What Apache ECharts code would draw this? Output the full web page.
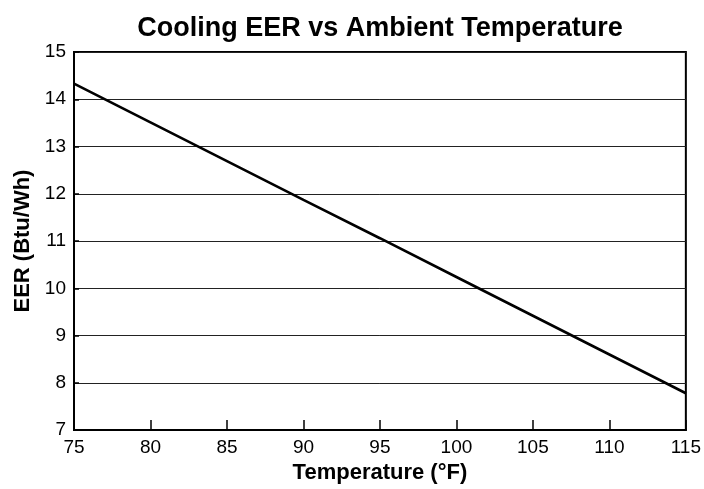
<!DOCTYPE html>
<html>
<head>
<meta charset="utf-8">
<script src="https://cdn.jsdelivr.net/npm/echarts@6/dist/echarts.min.js"></script>
<style>html,body{margin:0;padding:0;background:#fff;}#chart{width:704px;height:489px;}</style>
</head>
<body>
<div id="chart"></div>
<script>
const titleText = 'Cooling EER vs Ambient Temperature';
const xName = 'Temperature (°F)';
const yName = 'EER (Btu/Wh)';
const temps = [75, 80, 85, 90, 95, 100, 105, 110, 115];
const eer = [14.33, 13.51, 12.69, 11.87, 11.06, 10.24, 9.42, 8.60, 7.78];
const xMin = 75, xMax = 115, xStep = 5;
const yMin = 7, yMax = 15, yStep = 1;

const font = 'Arial, "Liberation Sans", Helvetica, sans-serif';
const chart = echarts.init(document.getElementById('chart'), null, {renderer: 'canvas'});
chart.setOption({
  animation: false,
  backgroundColor: '#fff',
  title: {
    text: titleText,
    left: 375, top: 10, textAlign: 'center',
    textStyle: {fontFamily: font, fontWeight: 'bold', fontSize: 27, color: '#000'}
  },
  grid: {left: 74, right: 18, top: 52, bottom: 51, show: true, borderColor: '#000', borderWidth: 2, backgroundColor: 'transparent'},
  xAxis: {
    type: 'value', min: xMin, max: xMax, interval: xStep,
    name: xName, nameLocation: 'middle', nameGap: 25,
    nameTextStyle: {fontFamily: font, fontWeight: 'bold', fontSize: 22, color: '#000'},
    axisLine: {show: true, lineStyle: {color: '#000', width: 2}},
    axisTick: {show: true, inside: true, length: 10, lineStyle: {color: '#000', width: 1.5}},
    axisLabel: {fontFamily: font, fontSize: 19, color: '#000', margin: 8},
    splitLine: {show: false}
  },
  yAxis: {
    type: 'value', min: yMin, max: yMax, interval: yStep,
    name: yName, nameLocation: 'middle', nameGap: 36, nameRotate: 90,
    nameTextStyle: {fontFamily: font, fontWeight: 'bold', fontSize: 22, color: '#000'},
    axisLine: {show: true, lineStyle: {color: '#000', width: 2}},
    axisTick: {show: true, inside: true, length: 5, lineStyle: {color: '#000', width: 1.5}},
    axisLabel: {fontFamily: font, fontSize: 19, color: '#000', margin: 8},
    splitLine: {show: true, lineStyle: {color: '#222', width: 1}}
  },
  series: [{
    type: 'line',
    data: temps.map((t, i) => [t, eer[i]]),
    showSymbol: false,
    symbol: 'none',
    lineStyle: {color: '#000', width: 2.6},
    z: 5
  }]
});
</script>
</body>
</html>
